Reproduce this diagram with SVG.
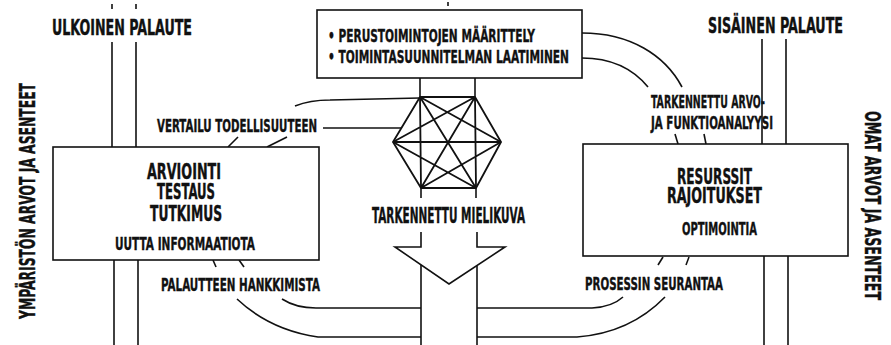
<svg xmlns="http://www.w3.org/2000/svg" width="891" height="345" viewBox="0 0 891 345">
<style>
.t{font-family:"Liberation Sans Narrow","DejaVu Sans Condensed","Liberation Sans",sans-serif;font-weight:bold;fill:#111;stroke:#111;stroke-width:0.4;}
.s{font-size:18.5px;}
.m{font-size:20.5px;}
.b{font-size:22px;}
.box{fill:#fff;stroke:#111;stroke-width:1.6;}
.ln{fill:none;stroke:#111;stroke-width:1.6;}
.hx{fill:none;stroke:#111;stroke-width:1.8;stroke-linejoin:round;}
</style>
<rect width="891" height="345" fill="#fff"/>

<g id="connectors">
  <line class="ln" x1="112" y1="4" x2="112" y2="9"/>
  <line class="ln" x1="136" y1="4" x2="136" y2="9"/>
  <line class="ln" x1="112" y1="42" x2="112" y2="147"/>
  <line class="ln" x1="136" y1="42" x2="136" y2="147"/>
  <line class="ln" x1="114" y1="260" x2="114" y2="345"/>
  <line class="ln" x1="138" y1="260" x2="138" y2="345"/>
  <line class="ln" x1="762" y1="39" x2="762" y2="144"/>
  <line class="ln" x1="786" y1="39" x2="786" y2="144"/>
  <line class="ln" x1="764" y1="256" x2="764" y2="345"/>
  <line class="ln" x1="788" y1="256" x2="788" y2="345"/>
  <line class="ln" x1="448" y1="2" x2="448" y2="6"/>
  <line class="ln" x1="420" y1="78" x2="420" y2="97"/>
  <line class="ln" x1="475" y1="78" x2="475" y2="97"/>
  <path class="ln" d="M295,106 Q310,100 330,100 L420,98"/>
  <line class="ln" x1="323" y1="128" x2="401" y2="128"/>
  <line class="ln" x1="228" y1="147" x2="238" y2="137"/>
  <line class="ln" x1="267" y1="147" x2="287" y2="137"/>
  <path class="ln" d="M582,33 C630,33 665,55 682,87"/>
  <path class="ln" d="M582,58 C612,58 634,70 648,87"/>
  <line class="ln" x1="675" y1="134" x2="678" y2="144"/>
  <line class="ln" x1="704" y1="134" x2="706" y2="144"/>
  <line class="ln" x1="213" y1="260" x2="216" y2="267"/>
  <line class="ln" x1="239" y1="260" x2="244" y2="267"/>
  <path class="ln" d="M282,299 Q296,308 316,308 L421,308"/>
  <path class="ln" d="M237,299 Q270,330 318,337 L421,337"/>
  <line class="ln" x1="663" y1="257" x2="658" y2="265"/>
  <line class="ln" x1="689" y1="257" x2="686" y2="265"/>
  <path class="ln" d="M477,308 L592,308 Q612,307 623,297"/>
  <path class="ln" d="M477,337 L577,337 Q630,333 665,297"/>
</g>

<g id="top-box">
  <rect class="box" x="317" y="10" width="265" height="68"/>
  <text class="t s" x="328" y="42" textLength="207" lengthAdjust="spacingAndGlyphs">• PERUSTOIMINTOJEN MÄÄRITTELY</text>
  <text class="t s" x="328" y="63" textLength="241" lengthAdjust="spacingAndGlyphs">• TOIMINTASUUNNITELMAN LAATIMINEN</text>
</g>

<g id="hexagon">
  <polygon class="hx" points="420,97 475,97 501,142 476,188 421,188 393,142"/>
  <path class="hx" d="M420,97 L501,142 M420,97 L476,188 M420,97 L421,188 M475,97 L393,142 M475,97 L421,188 M475,97 L476,188 M393,142 L501,142 M393,142 L476,188 M501,142 L421,188"/>
  <line class="ln" x1="421" y1="188" x2="421" y2="198"/>
  <line class="ln" x1="476" y1="188" x2="476" y2="198"/>
</g>

<g id="arrow">
  <path class="ln" d="M421,232 L421,247 L395,247 L449,284 L505,247 L477,247 L477,232"/>
  <line class="ln" x1="421" y1="265" x2="421" y2="345"/>
  <line class="ln" x1="477" y1="266" x2="477" y2="345"/>
  <text class="t m" x="372" y="223" textLength="153" lengthAdjust="spacingAndGlyphs">TARKENNETTU MIELIKUVA</text>
</g>

<g id="left-box">
  <rect class="box" x="53" y="147" width="266" height="113"/>
  <text class="t b" x="147" y="179" textLength="74" lengthAdjust="spacingAndGlyphs">ARVIOINTI</text>
  <text class="t b" x="157" y="199" textLength="58" lengthAdjust="spacingAndGlyphs">TESTAUS</text>
  <text class="t b" x="150" y="221" textLength="72" lengthAdjust="spacingAndGlyphs">TUTKIMUS</text>
  <text class="t s" x="115" y="250" textLength="140" lengthAdjust="spacingAndGlyphs">UUTTA INFORMAATIOTA</text>
</g>

<g id="right-box">
  <rect class="box" x="583" y="144" width="265" height="112"/>
  <text class="t b" x="677" y="184" textLength="75" lengthAdjust="spacingAndGlyphs">RESURSSIT</text>
  <text class="t b" x="667" y="203" textLength="95" lengthAdjust="spacingAndGlyphs">RAJOITUKSET</text>
  <text class="t s" x="682" y="235" textLength="75" lengthAdjust="spacingAndGlyphs">OPTIMOINTIA</text>
</g>

<g id="labels">
  <text class="t m" x="52" y="35" textLength="140" lengthAdjust="spacingAndGlyphs">ULKOINEN PALAUTE</text>
  <text class="t m" x="708" y="33" textLength="135" lengthAdjust="spacingAndGlyphs">SISÄINEN PALAUTE</text>
  <text class="t s" x="157" y="132" textLength="160" lengthAdjust="spacingAndGlyphs">VERTAILU TODELLISUUTEEN</text>
  <text class="t s" x="651" y="108" textLength="114" lengthAdjust="spacingAndGlyphs">TARKENNETTU ARVO-</text>
  <text class="t s" x="651" y="129" textLength="122" lengthAdjust="spacingAndGlyphs">JA FUNKTIOANALYYSI</text>
  <text class="t s" x="161" y="291" textLength="159" lengthAdjust="spacingAndGlyphs">PALAUTTEEN HANKKIMISTA</text>
  <text class="t s" x="585" y="290" textLength="138" lengthAdjust="spacingAndGlyphs">PROSESSIN SEURANTAA</text>
  <text class="t m" transform="translate(35,319) rotate(-90)" textLength="236" lengthAdjust="spacingAndGlyphs">YMPÄRISTÖN ARVOT JA ASENTEET</text>
  <text class="t m" transform="translate(865,111) rotate(90)" textLength="189" lengthAdjust="spacingAndGlyphs">OMAT ARVOT JA ASENTEET</text>
</g>
</svg>
